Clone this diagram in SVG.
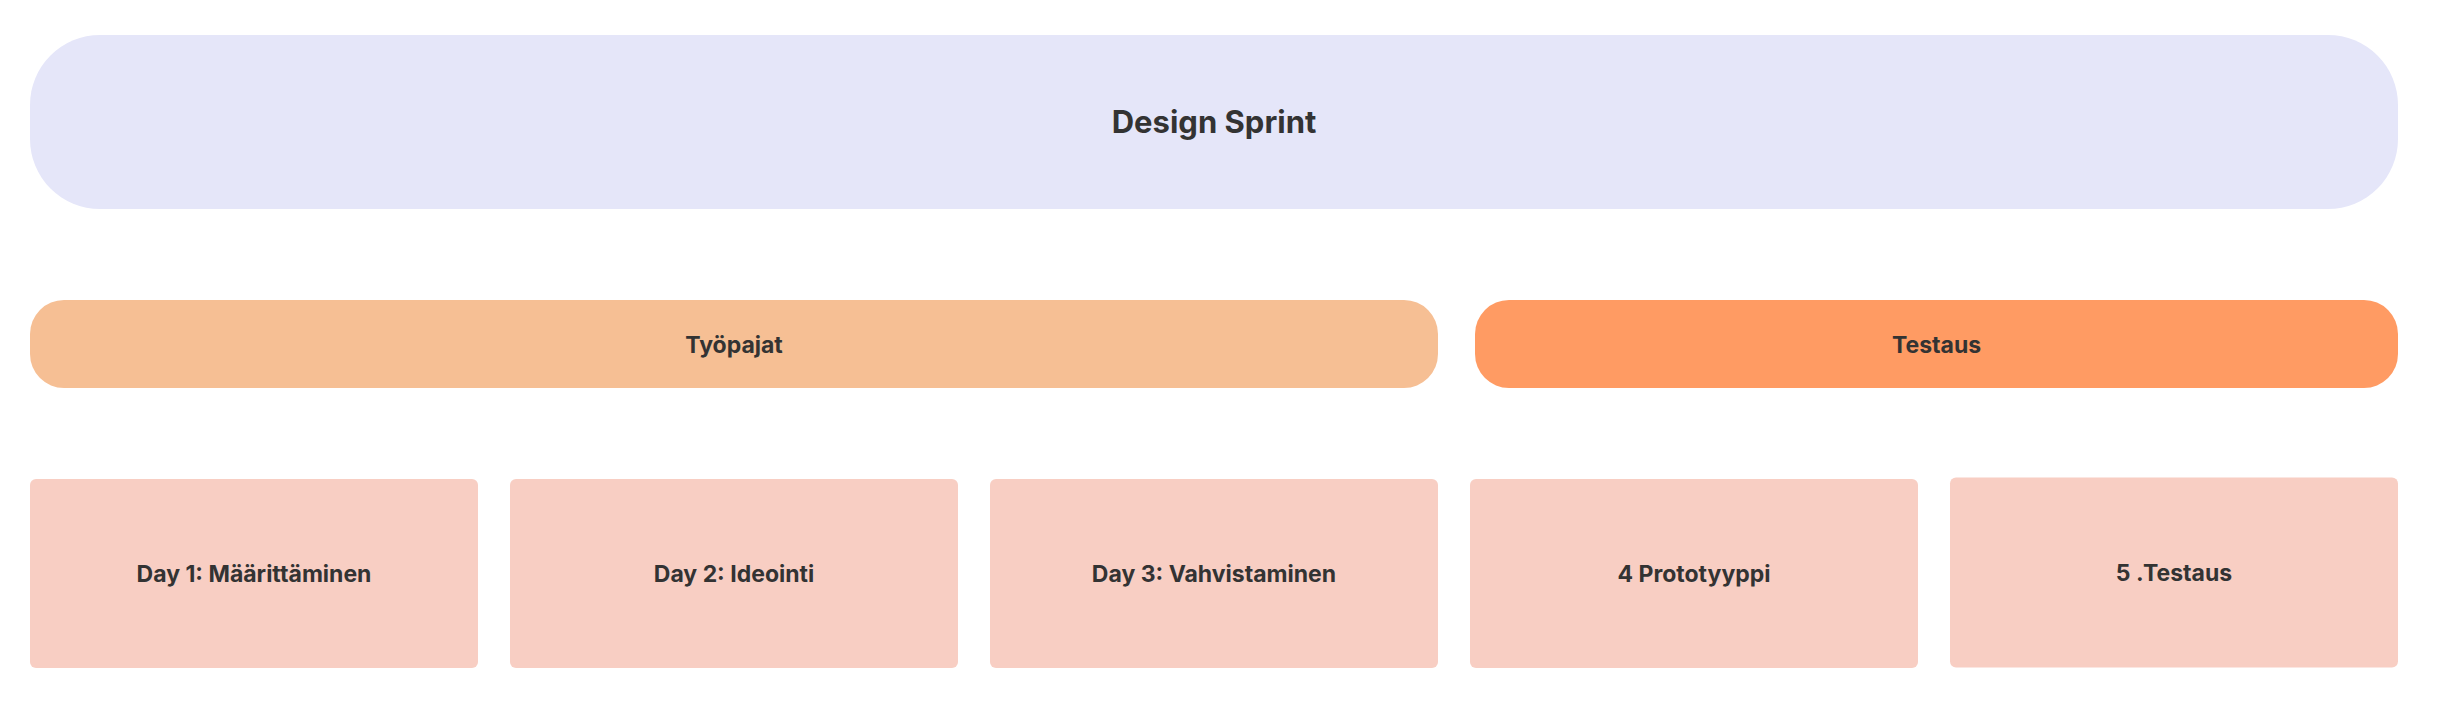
<svg xmlns="http://www.w3.org/2000/svg" width="2445" height="727" viewBox="0 0 2445 727">
<style>
.lbl{font-family:Inter,"Noto Sans","Liberation Sans",sans-serif;font-weight:700;fill:#333333;text-anchor:middle}
.big{font-size:31px}
.mid{font-size:23px}
.sm{font-size:23px}
.day{fill:#F8CEC3}
</style>
<rect width="2445" height="727" fill="#FFFFFF"/>
<g id="connectors"></g>
<g id="design-sprint">
<rect x="30" y="35" width="2368" height="174" rx="70" fill="#E5E6F9"/>
<text class="lbl big" x="1214" y="133">Design Sprint</text>
</g>
<g id="tyopajat">
<rect x="30" y="300" width="1408" height="88" rx="34" fill="#F6BF94"/>
<text class="lbl mid" x="734" y="353">Työpajat</text>
</g>
<g id="testaus">
<rect x="1475" y="300" width="923" height="88" rx="34" fill="#FF9B63"/>
<text class="lbl mid" x="1936.5" y="353">Testaus</text>
</g>
<g id="day1">
<rect class="day" x="30" y="479" width="448" height="189" rx="6"/>
<text class="lbl sm" x="254" y="582">Day 1: Määrittäminen</text>
</g>
<g id="day2">
<rect class="day" x="510" y="479" width="448" height="189" rx="6"/>
<text class="lbl sm" x="734" y="582">Day 2: Ideointi</text>
</g>
<g id="day3">
<rect class="day" x="990" y="479" width="448" height="189" rx="6"/>
<text class="lbl sm" x="1214" y="582">Day 3: Vahvistaminen</text>
</g>
<g id="day4">
<rect class="day" x="1470" y="479" width="448" height="189" rx="6"/>
<text class="lbl sm" x="1694" y="582">4 Prototyyppi</text>
</g>
<g id="day5">
<rect class="day" x="1950" y="477.5" width="448" height="190" rx="6"/>
<text class="lbl sm" x="2174" y="581">5 .Testaus</text>
</g>
</svg>
